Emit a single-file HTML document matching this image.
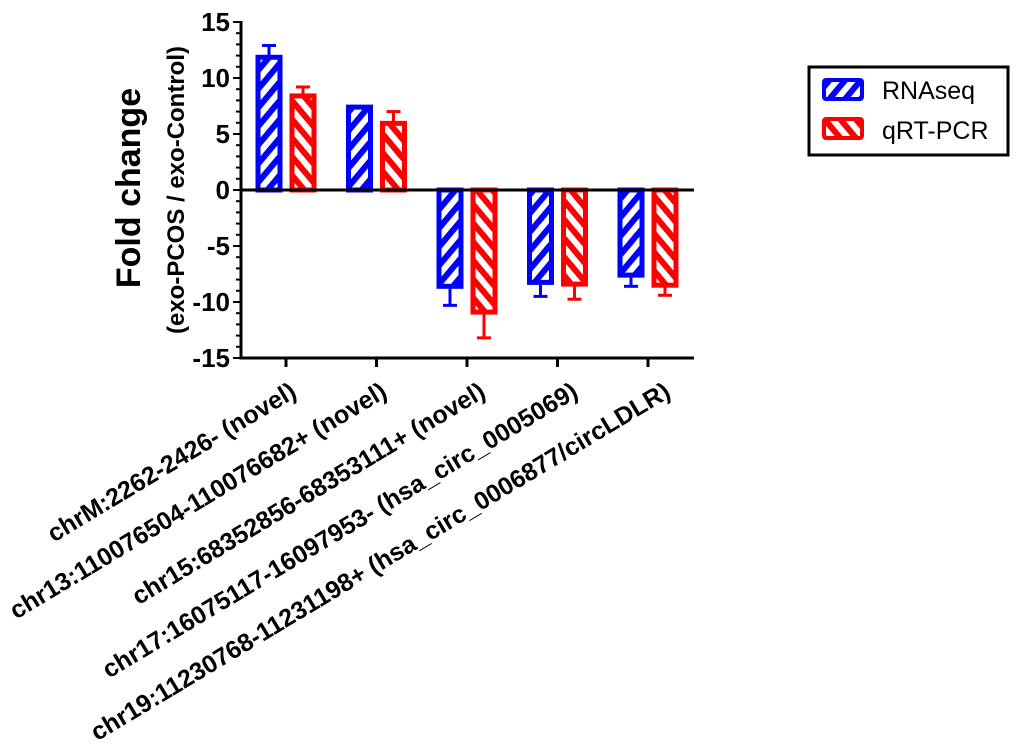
<!DOCTYPE html>
<html><head><meta charset="utf-8"><style>
body{margin:0;background:#fff;}
svg{display:block;font-family:"Liberation Sans",Arial,sans-serif;font-weight:bold;}
</style></head><body>
<svg id="chart" width="1020" height="753" viewBox="0 0 1020 753">
<defs>
<pattern id="hatchBlue" patternUnits="userSpaceOnUse" width="12" height="12" patternTransform="rotate(40)">
<rect width="12" height="12" fill="#fff"/><rect width="6" height="12" fill="#0000ff"/></pattern>
<pattern id="hatchRed" patternUnits="userSpaceOnUse" width="12" height="12" patternTransform="rotate(-40)">
<rect width="12" height="12" fill="#fff"/><rect width="6" height="12" fill="#ff0000"/></pattern>
</defs>
<g id="axes"></g>
<g id="bars"></g>
<text x="140" y="188" font-size="34" text-anchor="middle" transform="rotate(-90 140 188)">Fold change</text>
<text x="184" y="190" font-size="24" text-anchor="middle" transform="rotate(-90 184 190)">(exo-PCOS / exo-Control)</text>
<g>
<rect x="809" y="67" width="199" height="88" fill="#fff" stroke="#000" stroke-width="3"/>
<rect x="824" y="80" width="38" height="19" rx="2" fill="url(#hatchBlue)" stroke="#0000ff" stroke-width="4"/>
<text x="882" y="99" font-size="25" font-weight="normal">RNAseq</text>
<rect x="824" y="119" width="38" height="19" rx="2" fill="url(#hatchRed)" stroke="#ff0000" stroke-width="4"/>
<text x="882" y="139" font-size="25" font-weight="normal">qRT-PCR</text>
</g>
</svg>
<script>
const categories = ["chrM:2262-2426- (novel)","chr13:110076504-110076682+ (novel)","chr15:68352856-68353111+ (novel)","chr17:16075117-16097953- (hsa_circ_0005069)","chr19:11230768-11231198+ (hsa_circ_0006877/circLDLR)"];
const rnaseq = [11.85, 7.4, -8.6, -8.25, -7.6];
const rnaseqErr = [1.05, 0, 1.7, 1.25, 1.0];
const qrtpcr = [8.4, 5.95, -10.9, -8.4, -8.5];
const qrtpcrErr = [0.8, 1.05, 2.3, 1.35, 0.9];
const yTicks = [15, 10, 5, 0, -5, -10, -15];

const NS = "http://www.w3.org/2000/svg";
const X0 = 241, X1 = 694, Y0 = 190, PPU = 11.2;
const y = v => Y0 - v * PPU;
const xc = i => 286 + i * 90.5;
const labelShiftX = [0, 0, 8, 10, 12];
function mk(tag, attrs, parent){const e=document.createElementNS(NS,tag);for(const k in attrs)e.setAttribute(k,attrs[k]);parent.appendChild(e);return e;}
const axes = document.getElementById('axes'), bars = document.getElementById('bars');

const ya = mk('line',{x1:X0,x2:X0,y1:y(15)-1,y2:y(-15)+1.5,stroke:'#000','stroke-width':3},axes);


for(let v=-15; v<=15; v++){
  const major = v%5===0;
  mk('line',{x1:X0-(major?8:5),x2:X0,y1:y(v),y2:y(v),stroke:'#000','stroke-width':2},axes);
}
yTicks.forEach(t=>{
  const tx = mk('text',{x:X0-11,y:y(t)+9,'font-size':26,'text-anchor':'end'},axes);
  tx.textContent = t;
  
  
});
const xa = mk('line',{x1:X0,x2:X1,y1:y(-15),y2:y(-15),stroke:'#000','stroke-width':3},axes);


const zl = mk('line',{x1:X0,x2:X1,y1:Y0,y2:Y0,stroke:'#000','stroke-width':3},axes);



categories.forEach((c,i)=>{
  const x = xc(i);
  mk('line',{x1:x,x2:x,y1:y(-15),y2:y(-15)+9,stroke:'#000','stroke-width':3},axes);
  const ax = x + 12 + labelShiftX[i], ay = y(-15) + 38;
  const t = mk('text',{x:ax,y:ay,'font-size':25,'text-anchor':'end',transform:`rotate(-31 ${ax} ${ay})`},axes);
  t.textContent = c;
  
  
});

function drawBar(v, err, cx, color, fill, name){
  const w = 22;
  const top = Math.min(y(v), Y0), h = Math.abs(y(v)-Y0);
  if(err>0){
    const ev = v>=0 ? v+err : v-err;
    const el = mk('line',{x1:cx,x2:cx,y1:y(v),y2:y(ev),stroke:color,'stroke-width':3},bars);
    
    
    mk('line',{x1:cx-7,x2:cx+7,y1:y(ev),y2:y(ev),stroke:color,'stroke-width':3},bars);
  }
  const r = mk('rect',{x:cx-w/2,y:top,width:w,height:h,fill:fill,stroke:color,'stroke-width':5},bars);
  
  
}
categories.forEach((c,i)=>{
  drawBar(rnaseq[i], rnaseqErr[i], xc(i)-17, '#0000ff', 'url(#hatchBlue)', 'bar-rnaseq');
  drawBar(qrtpcr[i], qrtpcrErr[i], xc(i)+17, '#ff0000', 'url(#hatchRed)', 'bar-qrtpcr');
});
bars.appendChild(zl);
</script>
</body></html>
